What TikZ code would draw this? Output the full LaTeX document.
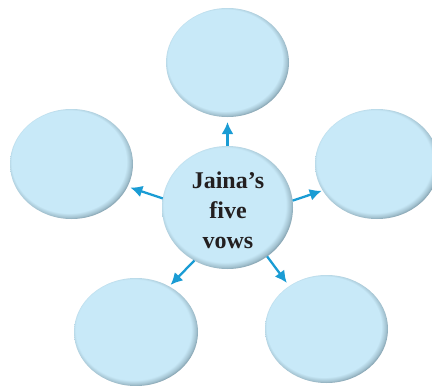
\documentclass[tikz,border=0pt]{standalone}
\usepackage{fontspec}
\setmainfont{Liberation Serif}
\usetikzlibrary{shapes.geometric,arrows.meta}
\definecolor{bubble}{HTML}{C8E9F8}
\definecolor{bubblemid}{HTML}{A3C2D0}
\definecolor{bubblerim}{HTML}{65818F}
\definecolor{arrowblue}{HTML}{1A9CD4}
\definecolor{textdark}{HTML}{231F20}
\pgfdeclareradialshading{bubbleshade}{\pgfpoint{-2bp}{2bp}}{%
  color(0bp)=(bubble); color(23.3bp)=(bubble); color(25.2bp)=(bubblemid);
  color(27bp)=(bubblerim); color(50bp)=(bubblerim)}
\tikzset{
  bubble/.style={ellipse, inner sep=0pt, outer sep=0pt, shading=bubbleshade},
  link/.style={draw=arrowblue, line width=2.3pt,
    -{Latex[length=12pt,width=12pt]}, shorten >=#1},
  link/.default=2pt,
  title/.style={font=\bfseries\fontsize{24}{30}\selectfont, text=textdark, align=center}
}
\begin{document}
\begin{tikzpicture}[x=1pt,y=-1pt]
\useasboundingbox (0,0) rectangle (432,386);
\node[bubble, minimum width=131pt, minimum height=123pt] (c) at (227.5,207.5) {};
\node[title] (ct) at (228,210) {Jaina’s\\five\\vows};
\node[bubble, minimum width=123pt, minimum height=109pt] (t) at (227.5,62.5) {};
\node[bubble, minimum width=123pt, minimum height=110pt] (l) at (71.5,164) {};
\node[bubble, minimum width=124pt, minimum height=110pt] (r) at (377,164) {};
\node[bubble, minimum width=124pt, minimum height=108pt] (bl) at (136,332) {};
\node[bubble, minimum width=123pt, minimum height=108pt] (br) at (326.5,329) {};
\draw[link=5pt] (c.90) -- (t.-90);
\draw[link=3pt] (c.172) -- (l.-22);
\draw[link=1pt] (c.6) -- (r.206);
\draw[link=2pt] (c.-122) -- (bl.54);
\draw[link=4pt] (c.-51) -- (br.131);
\end{tikzpicture}
\end{document}
